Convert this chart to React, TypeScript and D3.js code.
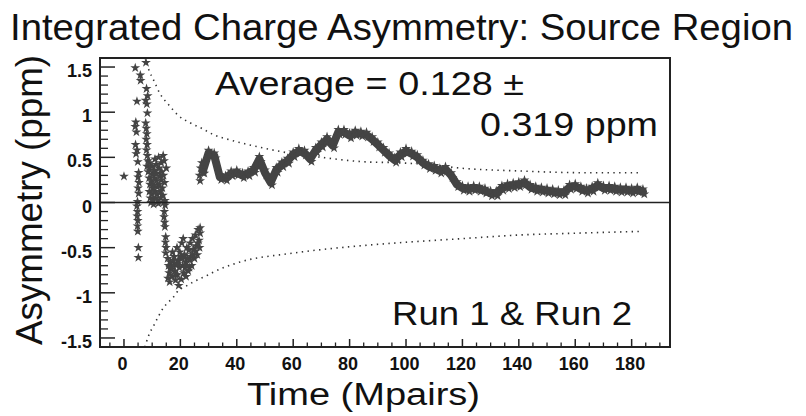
import * as d3 from 'd3'

// early scattered points (Mpairs, ppm)
const earlyT = [
  0,
  4.0, 5.8, 5.9, 4.6, 4.2, 4.0, 4.4, 4.1, 4.6, 4.3, 4.9, 5.2, 5.0, 5.3, 5.0, 5.2, 4.8, 4.6, 4.8, 4.7, 4.9, 4.8, 4.9, 5.1, 5.1,
  7.8, 8.0, 8.4, 7.7, 8.1, 8.3, 7.7, 7.9, 8.1, 7.9, 8.2, 8.0, 8.3, 8.5, 8.2, 8.6,
  9.0, 9.1, 8.9, 9.2, 9.0, 9.3, 9.6, 9.9, 10.0, 9.8, 10.1, 9.9, 10.3, 10.7, 10.8, 10.6, 10.9, 11.1,
  11.4, 11.6, 11.5, 11.8, 11.7, 12.0, 12.3, 12.4, 12.6, 12.5, 12.8, 13.0, 13.2, 13.4, 13.3, 13.6, 13.8,
  13.9, 14.2, 14.0, 14.4, 14.5, 14.1, 11.0, 15.0,
  10.5, 12.2, 14.6,
  14.3, 14.2, 14.4, 14.5, 14.8, 14.7, 14.9, 14.8,
  15.5, 15.8, 16.0, 16.5, 16.8, 17.0, 17.5, 17.8, 18.0, 18.3, 18.6, 19.0, 19.4, 19.6, 20.0, 20.3, 20.5,
  20.8, 21.0, 21.2, 21.5, 21.8, 22.0, 22.3, 22.6, 23.0, 23.2, 23.5, 23.8, 24.0, 24.3, 24.6, 25.0, 25.3,
  25.6, 26.0, 26.3, 26.6, 27.0, 27.0, 26.8, 17.2, 18.8, 19.8, 16.2, 21.0,
  16.4, 17.6, 18.4, 19.2, 20.6, 21.6, 22.4, 23.4, 24.4, 25.4, 26.2, 15.6, 19.0, 22.8,
  26.8, 27.2, 27.0, 27.6, 28.0,
]
const earlyV = [
  0.29,
  1.49, 1.41, 1.35, 1.12, 0.89, 0.84, 0.78, 0.64, 0.58, 0.54, 0.45, 0.33, 0.28, 0.22, 0.16, 0.10, 0.01, -0.04, -0.1, -0.15, -0.2, -0.26, -0.32, -0.5, -0.61,
  1.55, 1.26, 1.18, 1.13, 1.09, 0.99, 0.88, 0.82, 0.76, 0.70, 0.64, 0.58, 0.52, 0.46, 0.40, 0.34,
  0.44, 0.36, 0.27, 0.2, 0.12, 0.05, 0.0, 0.40, 0.31, 0.23, 0.16, 0.09, 0.03, 0.36, 0.27, 0.19, 0.12, 0.05,
  0.42, 0.32, 0.24, 0.17, 0.09, 0.02, 0.50, 0.38, 0.29, 0.20, 0.12, 0.05, 0.44, 0.34, 0.25, 0.16, 0.08,
  0.52, 0.46, 0.30, 0.22, 0.02, 0.0, 0.48, 0.38,
  -0.02, -0.01, -0.03,
  -0.1, -0.16, -0.22, -0.27, -0.38, -0.44, -0.5, -0.56,
  -0.62, -0.7, -0.78, -0.66, -0.74, -0.82, -0.7, -0.6, -0.76, -0.86, -0.68, -0.8, -0.92, -0.72, -0.6, -0.85, -0.45,
  -0.7, -0.4, -0.78, -0.58, -0.66, -0.82, -0.5, -0.62, -0.53, -0.72, -0.45, -0.6, -0.7, -0.4, -0.52, -0.62, -0.36,
  -0.48, -0.58, -0.3, -0.42, -0.28, -0.34, -0.5, -0.55, -0.5, -0.55, -0.88, -0.6,
  -0.72, -0.64, -0.8, -0.64, -0.62, -0.72, -0.7, -0.64, -0.58, -0.54, -0.45, -0.84, -0.68, -0.76,
  0.30, 0.38, 0.24, 0.44, 0.33,
]

// running average trace
const traceT = [
  28, 30, 32, 34, 36, 38, 40, 42, 44, 46, 48, 50, 52, 54, 56, 58, 60, 62, 64, 66, 68, 70, 72, 74, 76, 78,
  80, 82, 84, 86, 88, 90, 92, 94, 96, 98, 100, 102, 104, 106, 108, 110, 112, 114, 116, 118, 120, 122, 124,
  126, 128, 130, 132, 134, 136, 138, 140, 142, 144, 146, 148, 150, 152, 154, 156, 158, 160, 162, 164, 166,
  168, 170, 172, 174, 176, 178, 180, 182, 184,
]
const traceV = [
  0.35, 0.55, 0.52, 0.28, 0.27, 0.32, 0.33, 0.30, 0.32, 0.36, 0.48, 0.33, 0.22, 0.36, 0.42, 0.46, 0.53, 0.57,
  0.55, 0.48, 0.58, 0.64, 0.70, 0.63, 0.78, 0.78, 0.74, 0.77, 0.76, 0.75, 0.70, 0.64, 0.58, 0.52, 0.47, 0.53,
  0.57, 0.54, 0.50, 0.44, 0.40, 0.38, 0.35, 0.37, 0.30, 0.20, 0.16, 0.15, 0.16, 0.15, 0.13, 0.10, 0.10, 0.16,
  0.18, 0.19, 0.20, 0.22, 0.17, 0.15, 0.14, 0.13, 0.12, 0.11, 0.11, 0.17, 0.18, 0.15, 0.13, 0.15, 0.19, 0.16,
  0.16, 0.15, 0.14, 0.14, 0.13, 0.14, 0.12,
]

// dotted error envelope
const envUpT = [7.5, 8.8, 10.6, 12.7, 15.9, 19.4, 23.6, 27.6, 31.8, 38, 50, 58, 70, 85.5, 97, 108, 119.5, 139.6, 163, 183]
const envUpV = [1.6, 1.47, 1.35, 1.21, 1.08, 0.96, 0.88, 0.82, 0.75, 0.69, 0.6, 0.55, 0.5, 0.45, 0.44, 0.42, 0.38, 0.35, 0.33, 0.33]
const envLoT = [7.4, 8.8, 10.6, 12.4, 14.1, 15.9, 17.7, 19.4, 21.8, 24, 25.8, 30, 31.8, 40, 60, 80, 100, 120, 140, 160, 183]
const envLoV = [-1.6, -1.47, -1.36, -1.25, -1.16, -1.1, -1.04, -0.97, -0.93, -0.89, -0.86, -0.8, -0.77, -0.67, -0.56, -0.49, -0.44, -0.4, -0.36, -0.34, -0.32]

const yLabels = ['-1.5', '-1', '-0.5', '0', '0.5', '1', '1.5']
const yMajor = [-1.5, -1, -0.5, 0, 0.5, 1, 1.5]

const W = 806
const H = 416
const ink = '#111'
const dotColor = '#444'

export default function App() {
  const x = d3.scaleLinear().domain([-8.5, 193.6]).range([100, 670])
  const y = d3.scaleLinear().domain([-1.6, 1.6]).range([347, 58])
  const [x0, x1] = x.range()
  const [y0, y1] = y.range()

  const star = d3.symbol().type(d3.symbolStar).size(30)()
  const line = d3.line<[number, number]>()
    .x(d => x(d[0]))
    .y(d => y(d[1]))
  const smooth = d3.line<[number, number]>()
    .x(d => x(d[0]))
    .y(d => y(d[1]))
    .curve(d3.curveMonotoneX)

  const trace: [number, number][] = traceT.map((t, i) => [t, traceV[i]])
  const early: [number, number][] = earlyT.map((t, i) => [t, earlyV[i]])
  const up: [number, number][] = envUpT.map((t, i) => [t, envUpV[i]])
  const lo: [number, number][] = envLoT.map((t, i) => [t, envLoV[i]])

  const yMinor = y.ticks(32).filter(v => Math.abs(v) < 1.59 && !yMajor.some(m => Math.abs(m - v) < 1e-6))
  const xMajor = x.ticks(10)
  const xMinor = x.ticks(40).filter(v => !xMajor.includes(v))

  return (
    <svg width={W} height={H} style={{ position: 'absolute', left: 0, top: 0, background: '#fff' }}
      fontFamily="'Liberation Sans', Arial, sans-serif">
      <defs>
        <clipPath id="plot">
          <rect x={x0} y={y1} width={x1 - x0} height={y0 - y1} />
        </clipPath>
      </defs>
      <rect width={W} height={H} fill="#fff" />

      <text x={10} y={40} fontSize={36} fill={ink} textLength={783} lengthAdjust="spacingAndGlyphs">
        Integrated Charge Asymmetry: Source Region
      </text>

      <g clipPath="url(#plot)">
        <path d={smooth(up) ?? ''} fill="none" stroke="#333" strokeWidth={1.6}
          strokeDasharray="1.4 4.4" strokeLinecap="butt" />
        <path d={smooth(lo) ?? ''} fill="none" stroke="#333" strokeWidth={1.6}
          strokeDasharray="1.4 4.4" strokeLinecap="butt" />
        <path d={line(trace) ?? ''} fill="none" stroke={dotColor} strokeWidth={8}
          strokeLinejoin="round" strokeLinecap="round" />
        {trace.map((d, i) => (
          <g key={'t' + i}>
            <path d={star} transform={`translate(${x(d[0])},${y(d[1]) - 2.5})`} fill={dotColor} />
            <path d={star} transform={`translate(${x(d[0]) + 1.4},${y(d[1]) + 2.5})`} fill={dotColor} />
          </g>
        ))}
        {early.map((d, i) => (
          <path key={'e' + i} d={star} transform={`translate(${x(d[0])},${y(d[1])})`} fill={dotColor} />
        ))}
      </g>

      {/* zero line */}
      <line x1={x0} x2={x1} y1={y(0)} y2={y(0)} stroke="#222" strokeWidth={1.6} />

      {/* y ticks */}
      {yMajor.map(v => (
        <line key={'ym' + v} x1={x0} x2={x0 + 15} y1={y(v)} y2={y(v)} stroke="#222" strokeWidth={1.5} />
      ))}
      {yMinor.map(v => (
        <line key={'yn' + v} x1={x0} x2={x0 + 8} y1={y(v)} y2={y(v)} stroke="#222" strokeWidth={1.3} />
      ))}
      {yMajor.map((v, i) => (
        <text key={'yl' + v} x={92} y={y(v) + 10} textAnchor="end" fontSize={18} fontWeight="bold" fill={ink}>
          {yLabels[i]}
        </text>
      ))}

      {/* x ticks */}
      {xMajor.map(v => (
        <line key={'xm' + v} x1={x(v)} x2={x(v)} y1={y0} y2={y0 - 8} stroke="#222" strokeWidth={1.5} />
      ))}
      {xMinor.map(v => (
        <line key={'xn' + v} x1={x(v)} x2={x(v)} y1={y0} y2={y0 - 4.5} stroke="#222" strokeWidth={1.3} />
      ))}
      {xMajor.map(v => (
        <text key={'xl' + v} x={x(v) - 1.5} y={370} textAnchor="middle" fontSize={18} fontWeight="bold" fill={ink}>
          {String(v)}
        </text>
      ))}

      {/* frame */}
      <rect x={x0} y={y1} width={x1 - x0} height={y0 - y1} fill="none" stroke="#222" strokeWidth={2} />

      {/* annotations */}
      <text x={215} y={95} fontSize={34} fill={ink} textLength={309} lengthAdjust="spacingAndGlyphs">
        Average = 0.128 ±
      </text>
      <text x={480} y={136} fontSize={33} fill={ink} textLength={178} lengthAdjust="spacingAndGlyphs">
        0.319 ppm
      </text>
      <text x={392} y={325} fontSize={33} fill={ink} textLength={240} lengthAdjust="spacingAndGlyphs">
        Run 1 &amp; Run 2
      </text>

      {/* axis titles */}
      <text x={247} y={405} fontSize={31} fill={ink} textLength={233} lengthAdjust="spacingAndGlyphs">
        Time (Mpairs)
      </text>
      <text transform="translate(42,200) rotate(-90)" textAnchor="middle" fontSize={37} fill={ink}
        textLength={290} lengthAdjust="spacingAndGlyphs">
        Asymmetry (ppm)
      </text>
    </svg>
  )
}
